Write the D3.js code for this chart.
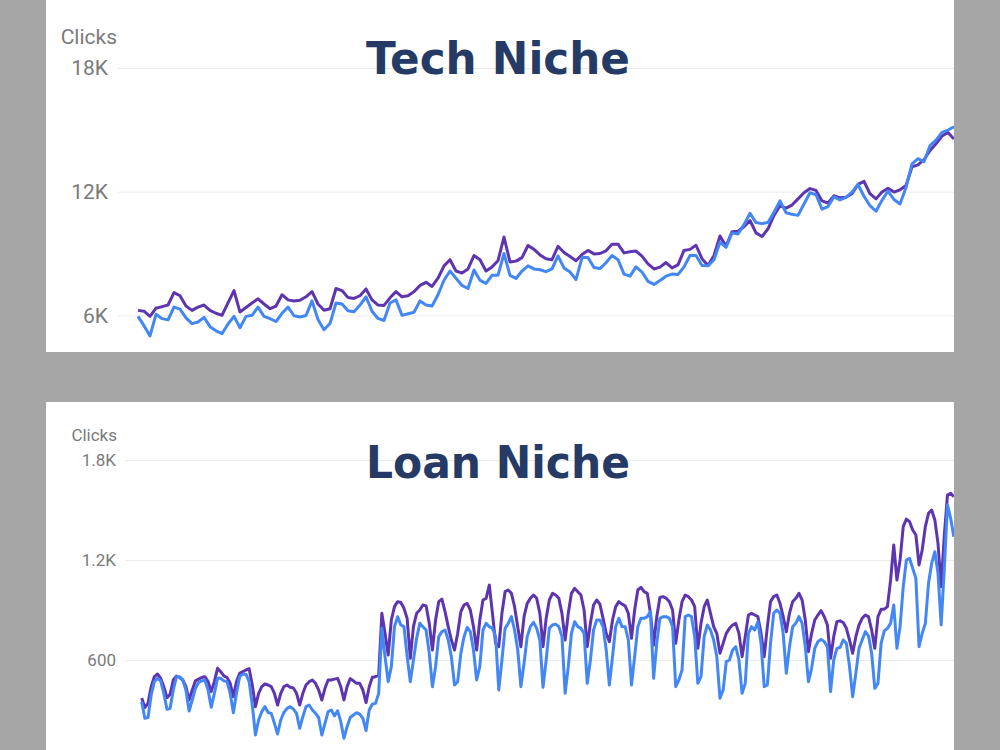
<!DOCTYPE html>
<html>
<head>
<meta charset="utf-8">
<script src="https://cdn.jsdelivr.net/npm/d3@7"></script>
<style>
	html, body { margin: 0; padding: 0; background: #a6a6a6; }
	svg { display: block; }
</style>
</head>
<body>
<div id="chart-area"></div>
<script>

// Tech niche - clicks, previous period (purple) and current period (blue)
var techTicks = [6000, 12000, 18000];
var techTickLabels = ["6K", "12K", "18K"];
var techPrevious = [
	6240, 6200, 5950, 6350, 6420, 6500, 7100, 6950, 6450, 6240,
	6400, 6500, 6240, 6100, 6000, 6600, 7200, 6160, 6380, 6600,
	6800, 6550, 6320, 6450, 7000, 6750, 6700, 6730, 6900, 7150,
	6550, 6250, 6320, 7300, 7200, 6860, 6820, 6950, 7280, 6750,
	6500, 6480, 6850, 7150, 6900, 6950, 7150, 7450, 7600, 7400,
	7800, 8400, 8700, 8150, 8050, 8250, 8900, 8700, 8150, 8350,
	8650, 9800, 8590, 8630, 8800, 9390, 9200, 8930, 8750, 8700,
	9350, 9050, 8850, 8650, 8950, 9150, 8980, 9000, 9130, 9450,
	9450, 9030, 9080, 9120, 8870, 8500, 8250, 8340, 8560, 8300,
	8450, 9150, 9200, 9400, 8750, 8420, 8900, 9850, 9350, 10050,
	10080, 10300, 10600, 10000, 9820, 10200, 10850, 11320, 11200, 11350,
	11650, 11950, 12150, 12060, 11550, 11450, 11800, 11700, 11730, 11900,
	12350, 12500, 11900, 11650, 11980, 12170, 11980, 12090, 12300, 13200,
	13300, 13550, 14000, 14320, 14700, 14870, 14550
];
var techCurrent = [
	5950, 5500, 5000, 6050, 5840, 5780, 6400, 6300, 5880, 5600,
	5680, 5900, 5450, 5250, 5110, 5580, 5950, 5400, 5950, 6000,
	6400, 5950, 5840, 5700, 6100, 6400, 5980, 5920, 5990, 6700,
	5800, 5300, 5600, 6600, 6550, 6220, 6170, 6500, 6900, 6200,
	5850, 5750, 6600, 6750, 6000, 6080, 6150, 6700, 6500, 6450,
	7000, 7700, 8150, 7800, 7450, 7300, 8200, 7700, 7550, 7940,
	7940, 9000, 7940, 7790, 8150, 8400, 8250, 8210, 8120, 8250,
	8880, 8300, 8100, 7730, 8800, 8800, 8320, 8270, 8550, 8900,
	8700, 8000, 7900, 8350, 8100, 7650, 7500, 7690, 7900, 8000,
	7980, 8350, 8900, 8900, 8420, 8400, 8700, 9550, 9300, 10000,
	9950, 10400, 10950, 10500, 10450, 10500, 11000, 11550, 10980, 10900,
	10850, 11400, 11950, 11850, 11150, 11280, 11750, 11600, 11720, 11980,
	12350, 11780, 11320, 11050, 11580, 12030, 11620, 11400, 12200, 13350,
	13600, 13450, 14230, 14500, 14880, 14990, 15150
];

// Loan niche - daily clicks, one line per week
var loanTicks = [600, 1200, 1800];
var loanTickLabels = ["600", "1.2K", "1.8K"];
var loanPrevious = [
	372,
	314, 340, 440, 500, 516, 490, 440,
	374, 395, 480, 504, 495, 480, 440,
	360, 420, 475, 485, 495, 500, 470,
	410, 470, 550, 530, 505, 495, 460,
	380, 470, 520, 530, 540, 548, 450,
	320, 400, 440, 456, 450, 440, 400,
	330, 400, 440, 450, 436, 432, 400,
	330, 400, 450, 470, 480, 460, 420,
	360, 430, 480, 480, 485, 490, 440,
	360, 440, 488, 475, 460, 460, 420,
	344, 440, 496, 500, 510, 880, 760,
	630, 840, 920, 950, 945, 910, 850,
	610, 800, 880, 900, 930, 925, 820,
	660, 840, 950, 965, 890, 800, 720,
	660, 760, 890, 930, 940, 900, 800,
	660, 840, 960, 970, 1050, 880, 700,
	680, 880, 1010, 1020, 1000, 920, 800,
	680, 860, 940, 970, 990, 970, 880,
	680, 850, 960, 1000, 990, 970, 880,
	720, 880, 1000, 1030, 1010, 990, 900,
	680, 820, 930, 960, 935, 850, 760,
	710, 840, 920, 950, 935, 925, 880,
	730, 900, 1020, 1036, 1010, 1000, 880,
	690, 860, 975, 980, 970, 950, 900,
	700, 840, 950, 990, 980, 960, 920,
	670, 820, 920, 960, 880, 800, 760,
	640, 700, 760, 790, 810, 820, 760,
	620, 740, 870, 880, 870, 860, 760,
	620, 800, 950, 980, 990, 940, 860,
	770, 880, 950, 970, 1000, 960, 840,
	650, 760, 840, 870, 896, 860, 810,
	610, 740, 830, 835, 825, 790, 720,
	640, 740, 810, 850, 870, 860, 780,
	670, 860, 904, 905, 920, 1080, 1290,
	1080, 1200, 1400, 1445, 1430, 1380, 1350,
	1170, 1260, 1400, 1480, 1500, 1440, 1300,
	1040, 1350, 1590, 1600, 1580
];
var loanCurrent = [
	350,
	250, 255, 390, 470, 490, 475, 400,
	304, 310, 420, 500, 500, 480, 420,
	294, 360, 430, 465, 475, 480, 420,
	316, 400, 490, 490, 475, 470, 400,
	284, 400, 500, 515, 515, 470, 330,
	150, 240, 290, 320, 285, 280, 220,
	156, 240, 285, 310, 320, 305, 280,
	190, 260, 320, 330, 300, 280, 255,
	150, 220, 290, 300, 265, 295, 230,
	130, 200, 255, 270, 284, 275, 250,
	176, 300, 335, 340, 400, 790, 620,
	470, 560, 800, 860, 810, 800, 620,
	470, 600, 730, 820, 800, 780, 640,
	440, 560, 740, 770, 780, 720, 620,
	450, 470, 640, 740, 795, 770, 660,
	480, 560, 780, 820, 800, 790, 740,
	420, 600, 790, 820, 860, 780, 660,
	440, 580, 740, 800, 826, 790, 720,
	436, 600, 790, 810, 815, 800, 740,
	400, 560, 760, 830, 800, 790, 760,
	460, 600, 780, 840, 840, 800, 660,
	450, 620, 800, 850, 800, 800, 720,
	450, 620, 800, 850, 850, 860, 890,
	490, 700, 850, 860, 860, 850, 800,
	440, 480, 540, 860, 870, 860, 740,
	460, 500, 740, 810, 780, 720, 620,
	370, 420, 590, 600, 660, 680, 600,
	400, 460, 760, 800, 780, 830, 700,
	440, 450, 700, 880, 900, 880, 760,
	520, 680, 800, 820, 860, 820, 680,
	470, 550, 670, 710, 724, 710, 680,
	410, 600, 670, 675, 720, 700, 560,
	380, 520, 670, 720, 770, 745, 640,
	430, 460, 700, 775, 790, 820, 930,
	670, 800, 1040, 1200, 1210, 1150, 1090,
	680, 760, 820, 1060, 1180, 1250, 1120,
	810, 1150, 1530, 1450, 1340
];

var svg = d3.select("#chart-area")
			.append("svg")
			.attr("width", 1000)
			.attr("height", 750);

svg.append("rect")
	.attr("width", 1000)
	.attr("height", 750)
	.attr("fill", "#a6a6a6");

function drawPanel(p){
	var g = svg.append("g");

	g.append("rect")
		.attr("x", 46)
		.attr("y", p.top)
		.attr("width", 908)
		.attr("height", p.height)
		.attr("fill", "#ffffff");

	g.append("clipPath")
		.attr("id", p.id)
		.append("rect")
		.attr("x", 46)
		.attr("y", p.top)
		.attr("width", 908)
		.attr("height", p.height);

	var x = d3.scaleLinear()
				.domain([0, p.previous.length - 1])
				.range(p.xRange);

	var y = d3.scaleLinear()
				.domain([0, p.ticks[2]])
				.range(p.yRange);

	var axis = d3.axisLeft(y)
				.tickValues(p.ticks)
				.tickSize(-(954 - p.gridStart))
				.tickPadding(p.pad)
				.tickFormat(function(d, i){ return p.labels[i]; });

	var ax = g.append("g")
				.attr("transform", "translate(" + p.gridStart + ",0)")
				.call(axis);
	ax.select(".domain").remove();
	ax.selectAll(".tick line")
		.attr("stroke", "#ebebeb")
		.attr("stroke-width", 1);
	ax.selectAll(".tick text")
		.attr("fill", "#7a7a7a")
		.style("font-family", "Roboto, sans-serif")
		.style("font-size", p.fontSize + "px");

	g.append("text")
		.attr("x", 117)
		.attr("y", p.clicksY)
		.attr("text-anchor", "end")
		.attr("fill", "#7a7a7a")
		.style("font-family", "Roboto, sans-serif")
		.style("font-size", p.fontSize + "px")
		.text("Clicks");

	var line = d3.line()
				.x(function(d, i){ return x(i); })
				.y(function(d){ return y(d); });

	var lines = g.append("g").attr("clip-path", "url(#" + p.id + ")");

	lines.append("path")
		.datum(p.previous)
		.attr("d", line)
		.attr("fill", "none")
		.attr("stroke", "#5e35b1")
		.attr("stroke-width", 3)
		.attr("stroke-linejoin", "round");

	lines.append("path")
		.datum(p.current)
		.attr("d", line)
		.attr("fill", "none")
		.attr("stroke", "#4287f5")
		.attr("stroke-width", 3)
		.attr("stroke-linejoin", "round");

	g.append("text")
		.attr("x", 498)
		.attr("y", p.titleY)
		.attr("text-anchor", "middle")
		.attr("fill", "#253a64")
		.attr("textLength", 264)
		.attr("lengthAdjust", "spacingAndGlyphs")
		.style("font-family", "'DejaVu Sans', sans-serif")
		.style("font-weight", 700)
		.style("font-size", "45px")
		.text(p.title);
}

drawPanel({
	id: "clip-tech", top: 0, height: 352,
	previous: techPrevious, current: techCurrent,
	ticks: techTicks, labels: techTickLabels,
	xRange: [138, 954], yRange: [439, 68],
	gridStart: 118, pad: 10, fontSize: 21, clicksY: 44,
	title: "Tech Niche", titleY: 74
});

drawPanel({
	id: "clip-loan", top: 402, height: 348,
	previous: loanPrevious, current: loanCurrent,
	ticks: loanTicks, labels: loanTickLabels,
	xRange: [141.7, 953.8], yRange: [760, 460],
	gridStart: 125, pad: 9, fontSize: 17, clicksY: 441,
	title: "Loan Niche", titleY: 478
});

</script>
</body>
</html>
